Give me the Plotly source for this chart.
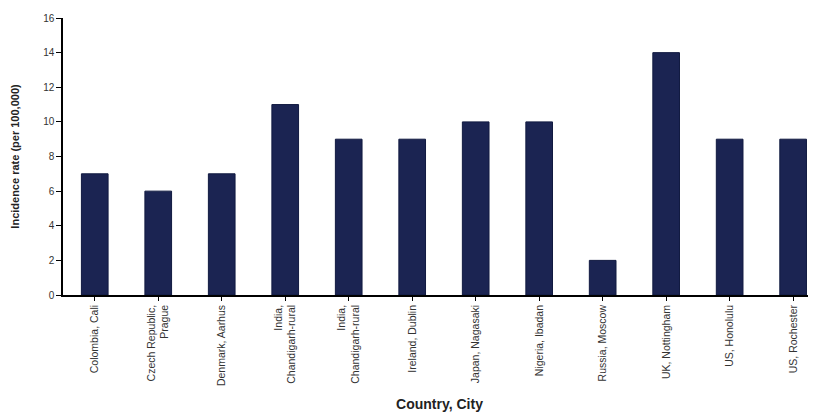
import plotly.graph_objects as go

categories = ["Colombia, Cali", "Czech Republic,<br>Prague", "Denmark, Aarhus",
              "India,<br>Chandigarh-rural", "India,<br>Chandigarh-rural", "Ireland, Dublin",
              "Japan, Nagasaki", "Nigeria, Ibadan", "Russia, Moscow", "UK, Nottingham",
              "US, Honolulu", "US, Rochester"]
values = [7, 6, 7, 11, 9, 9, 10, 10, 2, 14, 9, 9]
y_ticks = [0, 2, 4, 6, 8, 10, 12, 14, 16]

x_idx = list(range(len(categories)))

fig = go.Figure(go.Bar(x=x_idx, y=values, width=0.42,
                       marker=dict(color="#1b2452", line=dict(color="#111a40", width=1))))

fig.update_layout(
    width=816, height=415,
    margin=dict(l=55, r=8, t=10, b=128),
    plot_bgcolor="white", paper_bgcolor="white",
    showlegend=False,
    font=dict(family="Liberation Sans, Arial, sans-serif", color="#333"),
)
fig.update_xaxes(
    tickmode="array", tickvals=x_idx, ticktext=categories, tickangle=-90,
    range=[-0.5, 11.36], showline=True, linecolor="black", linewidth=1.5,
    ticks="outside", tickson="boundaries", ticklen=4, tickcolor="black",
    tickfont=dict(size=10.5, color="#333"), showgrid=False, automargin=False,
    title=dict(text="<b>Country, City</b>", font=dict(size=14, color="#222"), standoff=14),
)
fig.update_yaxes(
    range=[0, 16], tickvals=y_ticks, showline=True, linecolor="black", linewidth=1.5,
    ticks="outside", ticklen=5, tickcolor="black", showgrid=False, zeroline=False,
    tickfont=dict(size=10, color="#333"), automargin=False,
    title=dict(text="<b>Incidence rate (per 100,000)</b>", font=dict(size=11, color="#222"), standoff=21),
)
fig.write_html("out.html")
